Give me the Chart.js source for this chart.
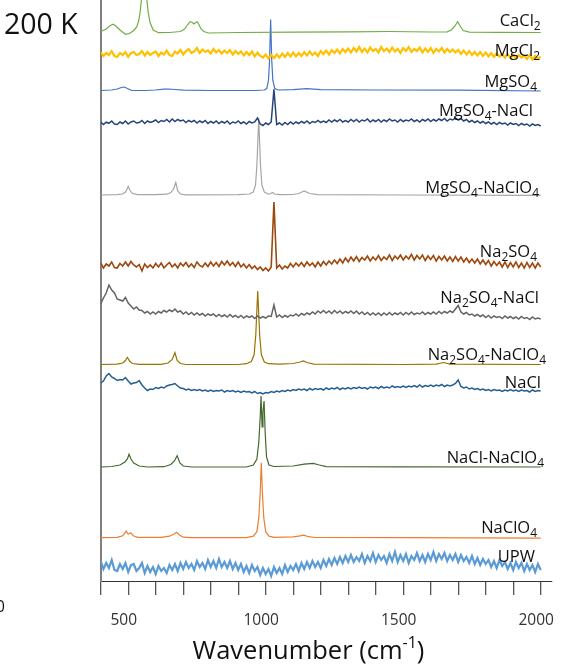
<!DOCTYPE html>
<html>
<head>
<meta charset="utf-8">
<title>Raman spectra 200 K</title>
<script src="https://cdn.jsdelivr.net/npm/chart.js@4/dist/chart.umd.min.js"></script>
<style>
  html, body { margin: 0; padding: 0; background: #fff; }
  #wrap { width: 579px; height: 667px; }
</style>
</head>
<body>
<div id="wrap"><canvas id="chart" width="579" height="667"></canvas></div>
<script>
// Raman spectra of frozen brines at 200 K, stacked with an offset per sample.
// x = wavenumber (cm-1), y = intensity (a.u.) relative to each sample's baseline.

const panelTag = "200 K";
const xTitle = ["Wavenumber (cm", "-1", ")"];
const xTickLabels = [500, 1000, 1500, 2000];

const seriesNames = [
  "CaCl2", "MgCl2", "MgSO4", "MgSO4-NaCl", "MgSO4-NaClO4", "Na2SO4",
  "Na2SO4-NaCl", "Na2SO4-NaClO4", "NaCl", "NaCl-NaClO4", "NaClO4", "UPW"
];
const seriesColors = [
  "#70AD47", "#FFC000", "#4472C4", "#264478", "#A5A5A5", "#9E480E",
  "#636363", "#997300", "#255E91", "#43682B", "#ED7D31", "#5B9BD5"
];
// vertical offset of each spectrum's baseline
const offsets = [548, 527, 490.5, 458, 386, 315, 265, 216.5, 191, 114, 43.3, 15];

// noisy spectra: sampled every 10 cm-1 on this grid
const grid = [
  400,410,420,430,440,450,460,470,480,490,
  500,510,520,530,540,550,560,570,580,590,
  600,610,620,630,640,650,660,670,680,690,
  700,710,720,730,740,750,760,770,780,790,
  800,810,820,830,840,850,860,870,880,890,
  900,910,920,930,940,950,960,970,980,990,
  1000,1010,1020,1030,1040,1050,1060,1070,1080,1090,
  1100,1110,1120,1130,1140,1150,1160,1170,1180,1190,
  1200,1210,1220,1230,1240,1250,1260,1270,1280,1290,
  1300,1310,1320,1330,1340,1350,1360,1370,1380,1390,
  1400,1410,1420,1430,1440,1450,1460,1470,1480,1490,
  1500,1510,1520,1530,1540,1550,1560,1570,1580,1590,
  1600,1610,1620,1630,1640,1650,1660,1670,1680,1690,
  1700,1710,1720,1730,1740,1750,1760,1770,1780,1790,
  1800,1810,1820,1830,1840,1850,1860,1870,1880,1890,
  1900,1910,1920,1930,1940,1950,1960,1970,1980,1990,
  2000
];

const mgcl2 = [
  2,-2,1,-1,3,-2,-3,1,-1,2,
  -3,1,2,-1,0,3,-1.5,2,-1,1,
  2.5,-2,1.5,-0.5,3.5,-1,-2,2.5,0.5,4,
  -0.5,3,5,1,2.5,6,1,4.5,2,3.5,
  0.5,5,1.5,4,0.5,3.5,1,4,-0.5,3,
  0,2.5,-1.5,2,-1,2.5,-2.5,1.5,-2,-3.5,
  -0.5,-4.5,-1,-4,-0.5,-3.5,0.5,-3,1,-2.5,
  1.5,-2.5,1,-2,2,-1.5,2.5,-1,1.5,-2,
  3,0,3.5,-0.5,4,1,4.5,0.5,5,2,
  5.5,1.5,6,2.5,7,2,5.5,1.5,6.5,3,
  5,1.5,7,3,5.5,2,6.5,2.5,5,1,
  6,3,7,2,5,3,6.5,1.5,5.5,2,
  6,1,5,2.5,6,1.5,5,2,4.5,1.5,
  4,0,3.5,-0.5,3,-1,2,-1.5,2,-2,
  1.5,-2.5,1,-3,0.5,-2.5,-0.5,-3.5,0,-4,
  -1,-4.5,-1,-3.5,-1.5,-5,-1,-5.5,-2,-5,
  -2.5
];

const mgso4NaCl = [
  1,-1.5,0.8,-0.3,2,-1,-1.5,1,-0.5,2,
  -1,1,2,0,0.5,2.5,-0.5,2,0.5,1.5,
  3,0.5,2.5,1.5,3.5,1,4,1.5,3.5,2,
  3,0.5,2.5,1,2.5,0,2,0.5,2.5,-0.5,
  1.5,0,2,-0.5,1.5,0,2,-1,1,0,
  2,-0.5,1,-1,1.5,0,1,5,-1,-2.5,
  0,-1.5,1,33.7,-1.5,0,-2,0.5,-1.5,1,
  -1,1,-0.5,1.5,0,2,-0.5,1.5,0.5,2.5,
  0.5,2,0.5,3,1,3,1.5,3.5,1,2.5,
  1,3.5,1.5,3.5,1,3,2,4,1,3,
  1.5,3.5,1,3,1.5,4,2,3,1,3.5,
  1.5,3,2,4,1.5,3,1,3.5,2,4,
  1.5,3.5,2,4,2.5,4.5,2,4,3,5,
  3,4.5,2,3.5,1,2.5,0.5,2,0,1.5,
  -0.5,1,-1,0.5,-1.5,0.5,-1,0,-2,0,
  -1.5,-0.5,-2.5,-0.5,-2,-1,-3,-1,-2.5,-1.5,
  -3
];

const na2so4 = [
  3,-2,2,0,4,-1.5,-2,2.5,0,4,
  0,4.5,1,-1,1.5,-5,2,-1.5,1,-2,
  2.5,-1,3,-2,1,3.5,-1,2,-2,3,
  0,3.5,-1,2,-1.5,4,0.5,-1,3,-0.5,
  4,0,3.5,-0.5,4.5,1,5,0.5,3.5,-0.5,
  4,-1,2,-2,1.5,-2.5,0,-3.5,-1,-4.5,
  -2,-5,-1,64,-2,1,-3,0,-2,2.5,
  -1,3,0,3.5,-0.5,4,0.5,3,-1,4,
  0,4.5,1,5,2,6,2.5,7,3,8,
  4,9,5,9.5,4.5,8.5,6,10,5,9,
  6,10.5,5.5,9,6.5,11,5.5,10,7,11,
  6,10,7,11.5,6,10.5,7,11,5.5,10,
  6.5,10.5,5,9.5,6,10,5,9,4.5,9.5,
  5,9,4,8,3.5,7,3,7,2,6,
  1.5,5.5,0,4.5,0.5,4,-1,4,-1.5,3.5,
  -1,4,-1.5,3,-2,3.5,-1.5,3,-2,3,
  -1
];

const na2so4NaCl = [
  12,18,23,31,26,23,17,16,15,18.5,
  13,10,7,9,6,5.5,3,4.5,2,4,
  2,4.5,3,5.5,4,6,4.5,7,4,5,
  2,4,1.5,3.5,1,3,1,2.5,0,2,
  0.5,2,-0.5,1.5,-0.5,1,-1,1.5,-1,0.5,
  -1.5,0.5,-2,0,-1.5,0,-2.5,0,-2,-0.5,
  -2,0,-0.5,11,-1,1,-1.5,0.5,-1,1,
  0,2,0,2.5,1,3,1.5,4,2,5,
  3,5.5,3,5,2.5,5.5,3,5,2.5,4.5,
  3,5,2.5,5,2,4,1.5,3.5,1,3,
  1,3,0.5,3,1,3.5,1,3,1.5,3.5,
  1,3.5,1.5,4,1.5,3,2,4,1.5,3.5,
  2,4,2,4.5,2.5,4.5,3,5,3.5,7,
  10.5,4,2,3.5,1,2,0,1.5,-0.5,1,
  -1.5,0.5,-2,0,-1.5,-0.5,-2.5,0,-2,-0.5,
  -2.5,-1,-3,-0.5,-2.5,-1.5,-3.5,-1,-3,-2,
  -3
];

const nacl = [
  7,9,14,16.5,13,11.5,9.5,10.5,10,12.5,
  9,6,7,7.5,9.5,5,2,-0.5,1,0.5,
  2.5,1.5,3,2,4,5,5.5,6.5,4,2,
  1.5,0,1,-0.5,0.5,-0.5,0.5,-1,0,-1.5,
  0,-1.5,-0.5,-1,0,-2,-0.5,-1.5,-0.5,-2,
  -1,-2.5,-1,-2,-1.5,-3,-1.5,-3.5,-2.5,-4,
  -2.5,-3,-1.5,-2.5,-1,-2,-0.5,-1.5,0,-1,
  0.5,-0.5,1,0,1,-0.5,1.5,0,1.5,0.5,
  1.5,0,2,0.5,2,1,2.5,0.5,2,1,
  2.5,1,2.5,1.5,3,1.5,2.5,1,3,2,
  3,1.5,3.5,2,3,2,4,2.5,3.5,2.5,
  4,2.5,4,3,4.5,3,5,3,4.5,3.5,
  5,3.5,5,4,5.5,3.5,5,4,5,6.5,
  10,3.5,2,3,1,2,0.5,1.5,0,1,
  -0.5,0.5,-1,0.5,-0.5,0,-1.5,0,-1,0.5,
  -1,0,-1.5,0,-1,-0.5,-2,0,-1.5,-0.5,
  -1
];

const upw = [
  5,-3,3,-2,6,-4,-5,2,-3,3,
  -6,1,2,-5,-2,3,-7,0,-6,-1,
  -8,0,-5,-2,-7,1,-4,2,-5,3,
  -3,4,-2,2,-4,5,-1,3,-3,6,
  -1,5,-2,7,-1,4,-2,5,-3,3,
  -4,2,-6,0,-7,1,-5,-1,-9,-2,
  -8,-3,-10,-1,-7,-2,-8,1,-6,0,
  -4,2,-5,3,-3,4,-2,5,-1,4,
  -2,6,0,7,1,8,2,9,3,10,
  4,11,4,9,5,12,3,10,5,13,
  4,11,6,10,3,12,5,14,4,11,
  5,12,3,10,6,13,5,11,4,12,
  6,14,5,12,7,13,5,11,6,12,
  4,11,5,9,3,10,2,8,1,7,
  2,6,-1,5,-2,6,0,4,-3,3,
  -4,4,-2,3,-5,2,-4,1,-6,2,
  -4
];

// smooth spectra: [wavenumber, intensity] pairs
const cacl2 = [
  [400,1.5],[420,4],[435,7.5],[445,8.7],[455,7],[470,3],[490,-1.3],[505,-0.5],
  [520,2.5],[531,6],[538,12],[543,20],[550,38],[558,62],[566,38],[573,20],
  [580,10],[591,3],[610,0.3],[650,0.5],[690,1.5],[705,4],[715,8],[725,11.3],
  [733,10.5],[739,9],[745,10.5],[751,11.3],[758,8],[765,4],[775,1.5],[791,0],
  [900,0.5],[1100,0.8],[1300,1.2],[1450,1.5],[1600,1],[1660,1.2],[1675,3],
  [1688,7],[1698,11.3],[1707,7],[1718,2.5],[1740,0.8],[1850,0.7],[2000,0.5]
];

const mgso4 = [
  [400,0],[440,0.5],[460,1.5],[475,3],[486,3.5],[497,2],[513,0],[560,0],
  [600,0.5],[630,1.3],[646,1.5],[670,1],[700,0.3],[800,0],[960,0],[995,0.5],
  [1004,2],[1010,10],[1014,30],[1018,71],[1022,30],[1026,10],[1033,2],
  [1045,0.5],[1100,0.8],[1149,1.8],[1200,0.8],[1400,0.5],[1700,0.3],[2000,-0.5]
];

const mgso4NaClO4 = [
  [400,0],[460,0.3],[480,1],[490,3],[496,6],[500,8.5],[506,5],[515,1.5],
  [535,0.3],[600,0.3],[640,0.8],[655,2.5],[665,6],[673,12.5],[680,4],[690,1],
  [710,0.2],[900,0.3],[940,1],[955,3],[963,10],[968,30],[974.6,77],[981,30],
  [986,10],[995,3],[1010,0.8],[1018,1.5],[1025,2.5],[1032,1],[1050,0.3],
  [1100,0.5],[1120,1.5],[1140,4],[1160,1.5],[1190,0.3],[1500,0],[2000,-0.3]
];

const na2so4NaClO4 = [
  [400,0],[460,0.3],[480,1.5],[490,4],[497,7.2],[505,3.5],[515,1],[540,0.2],
  [620,0.2],[645,1.5],[660,5],[670,11.8],[678,4],[690,1],[710,0],[900,0],
  [930,0.8],[948,3],[958,10],[964,30],[971,73.5],[978,30],[984,10],[995,2.5],
  [1010,0.8],[1050,0.3],[1100,1],[1125,2.5],[1137,3.5],[1150,2],[1175,0.3],
  [1500,0],[1620,0.3],[1647,2],[1670,0.3],[2000,0]
];

const naclNaClO4 = [
  [400,0],[440,0.5],[470,2],[488,5],[497,8],[503,12.7],[510,8],[520,4],
  [540,1],[570,0],[630,0.3],[655,2.5],[668,6],[678,11.3],[688,4],[700,1],
  [730,0],[930,0],[955,2],[968,8],[975,25],[980,50],[983,71],[987,40],
  [990,55],[994,66],[998,35],[1003,10],[1012,2],[1030,0.5],[1100,1],
  [1140,2.8],[1173,3.7],[1195,2],[1220,0.3],[1500,0.2],[2000,0]
];

const naclo4 = [
  [400,0],[460,0.3],[480,2],[488,4.5],[493,6.5],[500,3.5],[509,5],[518,2],
  [535,0.3],[620,0.3],[650,1.5],[668,4],[676,5.4],[685,3],[700,0.5],[730,0],
  [930,0],[955,1.5],[968,6],[975,20],[980,45],[984,75],[988,45],[993,20],
  [1000,6],[1012,1.5],[1030,0.3],[1100,0.8],[1125,1.8],[1139,2.5],[1155,1],
  [1180,0.2],[1500,0],[2000,-0.5]
];

const spectra = [
  cacl2, mgcl2, mgso4, mgso4NaCl, mgso4NaClO4, na2so4,
  na2so4NaCl, na2so4NaClO4, nacl, naclNaClO4, naclo4, upw
];

// ---- drawing ----

const el = (id) => document.getElementById(id);

// label placement next to each trace: [shift of right edge in px, lift above baseline]
const labelPlace = [
  [0, 7], [-0.7, -2], [-3.7, 3.2], [-7.7, 7.3], [-1.7, 2.3], [-3.7, 9.3],
  [-1.7, 12.7], [5.3, 4.5], [0.3, 1.7], [3.3, 3.7], [-3.7, 4.4], [-5.7, 4.3]
];
// noisy traces get a heavier pen so they read as a band
const lineWidths = [1.2, 2.2, 1.2, 1.5, 1.2, 1.6, 1.5, 1.2, 1.5, 1.2, 1.2, 2.2];

const FONT = "'Open Sans', 'Noto Sans', sans-serif";

function toPoints(spec, off){
  if (typeof spec[0] === "number") return grid.map((x, i) => ({ x, y: off + spec[i] }));
  return spec.map(p => ({ x: p[0], y: off + p[1] }));
}

// draws a formula like Na2SO4 with the digits as subscripts, right-aligned
function drawFormula(ctx, text, right, base){
  const runs = text.match(/\d+|\D+/g);
  const main = "16.5px " + FONT, sub = "12px " + FONT;
  let w = 0;
  for (const r of runs){
    ctx.font = /\d/.test(r) ? sub : main;
    w += ctx.measureText(r).width;
  }
  let x = right - w;
  for (const r of runs){
    const isSub = /\d/.test(r);
    ctx.font = isSub ? sub : main;
    ctx.fillText(r, x, isSub ? base + 4 : base);
    x += ctx.measureText(r).width;
  }
}

const textPlugin = {
  id: "spectraText",
  afterDraw(chart){
    const ctx = chart.ctx;
    const xs = chart.scales.x, ys = chart.scales.y;
    ctx.save();
    ctx.fillStyle = "#111";
    ctx.textAlign = "left";
    ctx.textBaseline = "alphabetic";

    // trace labels
    const xEnd = xs.getPixelForValue(2000);
    seriesNames.forEach((name, i) => {
      const [dx, lift] = labelPlace[i];
      drawFormula(ctx, name, xEnd + dx, ys.getPixelForValue(offsets[i] + lift));
    });

    // panel tag
    ctx.font = "28.5px " + FONT;
    ctx.fillText(panelTag, 4, 33.5);

    // leftover tick digit at the left edge
    ctx.font = "16px " + FONT;
    ctx.textAlign = "right";
    ctx.fillText("0", 5, 611.5);
    ctx.textAlign = "left";

    // axis title with superscript
    const main = "25.5px " + FONT, sup = "16px " + FONT;
    ctx.font = main; const w0 = ctx.measureText(xTitle[0]).width;
    ctx.font = sup;  const w1 = ctx.measureText(xTitle[1]).width;
    ctx.font = main; const w2 = ctx.measureText(xTitle[2]).width;
    let x = 308.5 - (w0 + w1 + w2) / 2;
    const base = 658.5;
    ctx.font = main; ctx.fillText(xTitle[0], x, base); x += w0;
    ctx.font = sup;  ctx.fillText(xTitle[1], x, base - 10.5); x += w1;
    ctx.font = main; ctx.fillText(xTitle[2], x, base);
    ctx.restore();
  }
};

const datasets = spectra.map((spec, i) => ({
  label: seriesNames[i],
  data: toPoints(spec, offsets[i]),
  borderColor: seriesColors[i],
  borderWidth: lineWidths[i],
  pointRadius: 0,
  tension: 0,
  fill: false
}));

new Chart(el("chart"), {
  type: "line",
  data: { datasets },
  plugins: [textPlugin],
  options: {
    responsive: false,
    animation: false,
    devicePixelRatio: 1,
    parsing: false,
    layout: { padding: { left: 100.7, right: 27.3, top: 0, bottom: 0 } },
    plugins: { legend: { display: false }, tooltip: { enabled: false } },
    scales: {
      x: {
        type: "linear",
        min: 400,
        max: 2040,
        afterFit: (s) => { s.height = 86; },
        border: { display: true, color: "#333", width: 1 },
        grid: { drawOnChartArea: false, drawTicks: true, tickLength: 14, color: "#555", lineWidth: 1.3 },
        ticks: {
          stepSize: 100,
          includeBounds: false,
          autoSkip: false,
          maxRotation: 0,
          labelOffset: -4.5,
          padding: 16,
          color: "#333",
          font: { family: FONT, size: 15.5 },
          callback: (v) => xTickLabels.includes(v) ? String(v) : ""
        }
      },
      y: {
        min: 0,
        max: 581,
        afterFit: (s) => { s.width = 0; },
        ticks: { display: false },
        grid: { display: false, drawTicks: false },
        border: { display: true, color: "#808080", width: 2 }
      }
    }
  }
});
</script>
</body>
</html>
